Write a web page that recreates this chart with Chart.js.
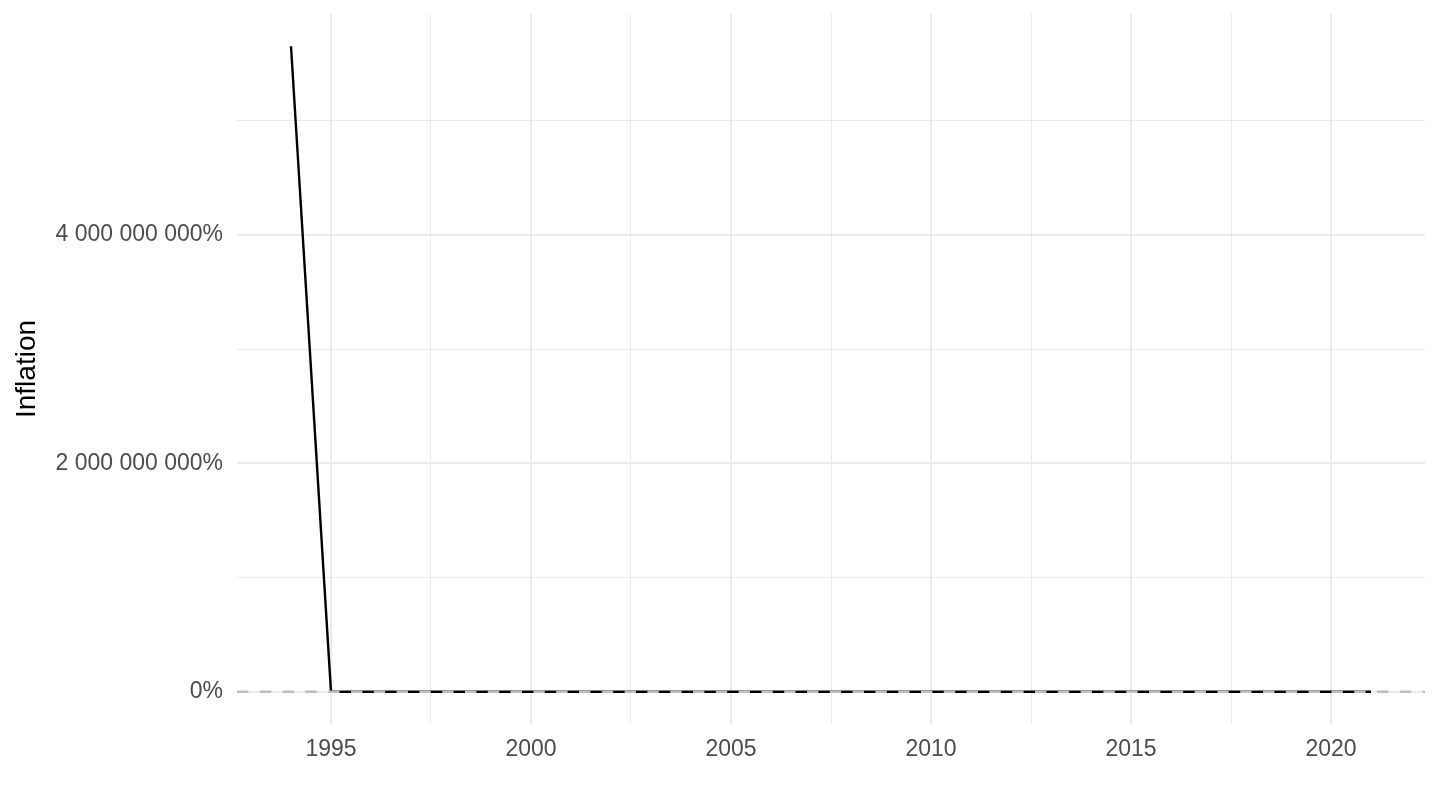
<!DOCTYPE html>
<html>
<head>
<meta charset="utf-8">
<script src="https://cdn.jsdelivr.net/npm/chart.js@4.4.1/dist/chart.umd.min.js"></script>
<style>
    html, body { margin: 0; padding: 0; background: #ffffff; }
    #wrap { width: 1440px; height: 810px; }
</style>
</head>
<body>
<div id="wrap"><canvas id="inflation-chart" width="1440" height="810"></canvas></div>
<script>
    // Data (inflation in %)
    var years = [1994, 1995, 1996, 1997, 1998, 1999, 2000, 2001, 2002, 2003, 2004, 2005, 2006, 2007,
                 2008, 2009, 2010, 2011, 2012, 2013, 2014, 2015, 2016, 2017, 2018, 2019, 2020, 2021];
    var inflation = [5650000000, 78.6, 94.3, 21.3, 29.5, 37.1, 60.4, 91.8, 19.5, 11.7, 10.1, 16.5, 12.7, 6.5,
                     12.4, 8.1, 6.1, 11.1, 7.3, 7.7, 2.1, 1.4, 1.1, 3.1, 2.0, 1.9, 1.6, 4.1];
    var xTicks = [1995, 1997.5, 2000, 2002.5, 2005, 2007.5, 2010, 2012.5, 2015, 2017.5, 2020];
    var yTicks = [0, 1000000000, 2000000000, 3000000000, 4000000000, 5000000000];
    var yLabelled = [0, 2000000000, 4000000000];

    // ggplot-like expansion (5% each side)
    var xSpan = years[years.length - 1] - years[0];
    var xMin = years[0] - xSpan * 0.05, xMax = years[years.length - 1] + xSpan * 0.05;
    var yLo = Math.min.apply(null, inflation), yHi = Math.max.apply(null, inflation);
    var yMin = yLo - (yHi - yLo) * 0.05, yMax = yHi + (yHi - yLo) * 0.05;

    var points = years.map(function (y, i) { return {x: y, y: inflation[i]}; });

    function fmt(v) {
        return String(Math.round(v)).replace(/\B(?=(\d{3})+(?!\d))/g, " ") + "%";
    }

    // Dashed reference line at zero
    var zeroLine = {
        id: "zeroLine",
        afterDatasetsDraw: function (chart) {
            var ctx = chart.ctx, area = chart.chartArea;
            var y0 = chart.scales.y.getPixelForValue(0);
            ctx.save();
            ctx.strokeStyle = "#bebebe";
            ctx.lineWidth = 2.5;
            ctx.setLineDash([11.4, 11.4]);
            ctx.beginPath();
            ctx.moveTo(area.left, y0);
            ctx.lineTo(area.right, y0);
            ctx.stroke();
            ctx.restore();
        }
    };

    var font = "'Liberation Sans', Arial, sans-serif";

    var ctx = document.getElementById("inflation-chart").getContext("2d");
    var myChart = new Chart(ctx, {
        type: "line",
        data: {
            datasets: [{
                data: points,
                borderColor: "#000000",
                borderWidth: 2.4,
                pointRadius: 0,
                tension: 0,
                fill: false
            }]
        },
        plugins: [zeroLine],
        options: {
            responsive: false,
            animation: false,
            layout: { padding: { left: 5, right: 15, top: 14, bottom: 0 } },
            plugins: { legend: { display: false }, tooltip: { enabled: false } },
            scales: {
                x: {
                    type: "linear",
                    min: xMin,
                    max: xMax,
                    afterBuildTicks: function (scale) {
                        scale.ticks = xTicks.map(function (v) { return {value: v}; });
                    },
                    afterFit: function (scale) { scale.height = 810 - 724; },
                    border: { display: false },
                    grid: {
                        drawTicks: false,
                        color: "#ebebeb",
                        lineWidth: function (c) { return c.tick && c.tick.value % 5 === 0 ? 2 : 1; }
                    },
                    ticks: {
                        autoSkip: false,
                        maxRotation: 0,
                        padding: 12,
                        color: "#4d4d4d",
                        font: { family: font, size: 23 },
                        callback: function (v) { return v % 5 === 0 ? String(v) : ""; }
                    }
                },
                y: {
                    type: "linear",
                    min: yMin,
                    max: yMax,
                    afterBuildTicks: function (scale) {
                        scale.ticks = yTicks.map(function (v) { return {value: v}; });
                    },
                    afterFit: function (scale) {
                        scale.width = 237 - 5;
                        scale.paddingTop = 0;
                        scale.paddingBottom = 0;
                    },
                    border: { display: false },
                    grid: {
                        drawTicks: false,
                        color: "#ebebeb",
                        lineWidth: function (c) { return c.tick && yLabelled.indexOf(c.tick.value) >= 0 ? 2 : 1; }
                    },
                    ticks: {
                        autoSkip: false,
                        padding: 14,
                        color: "#4d4d4d",
                        font: { family: font, size: 23 },
                        callback: function (v) { return yLabelled.indexOf(v) >= 0 ? fmt(v) : ""; }
                    },
                    title: {
                        display: true,
                        text: "Inflation",
                        color: "#000000",
                        font: { family: font, size: 28 },
                        padding: { top: 5, bottom: 4 }
                    }
                }
            }
        }
    });
</script>
</body>
</html>
